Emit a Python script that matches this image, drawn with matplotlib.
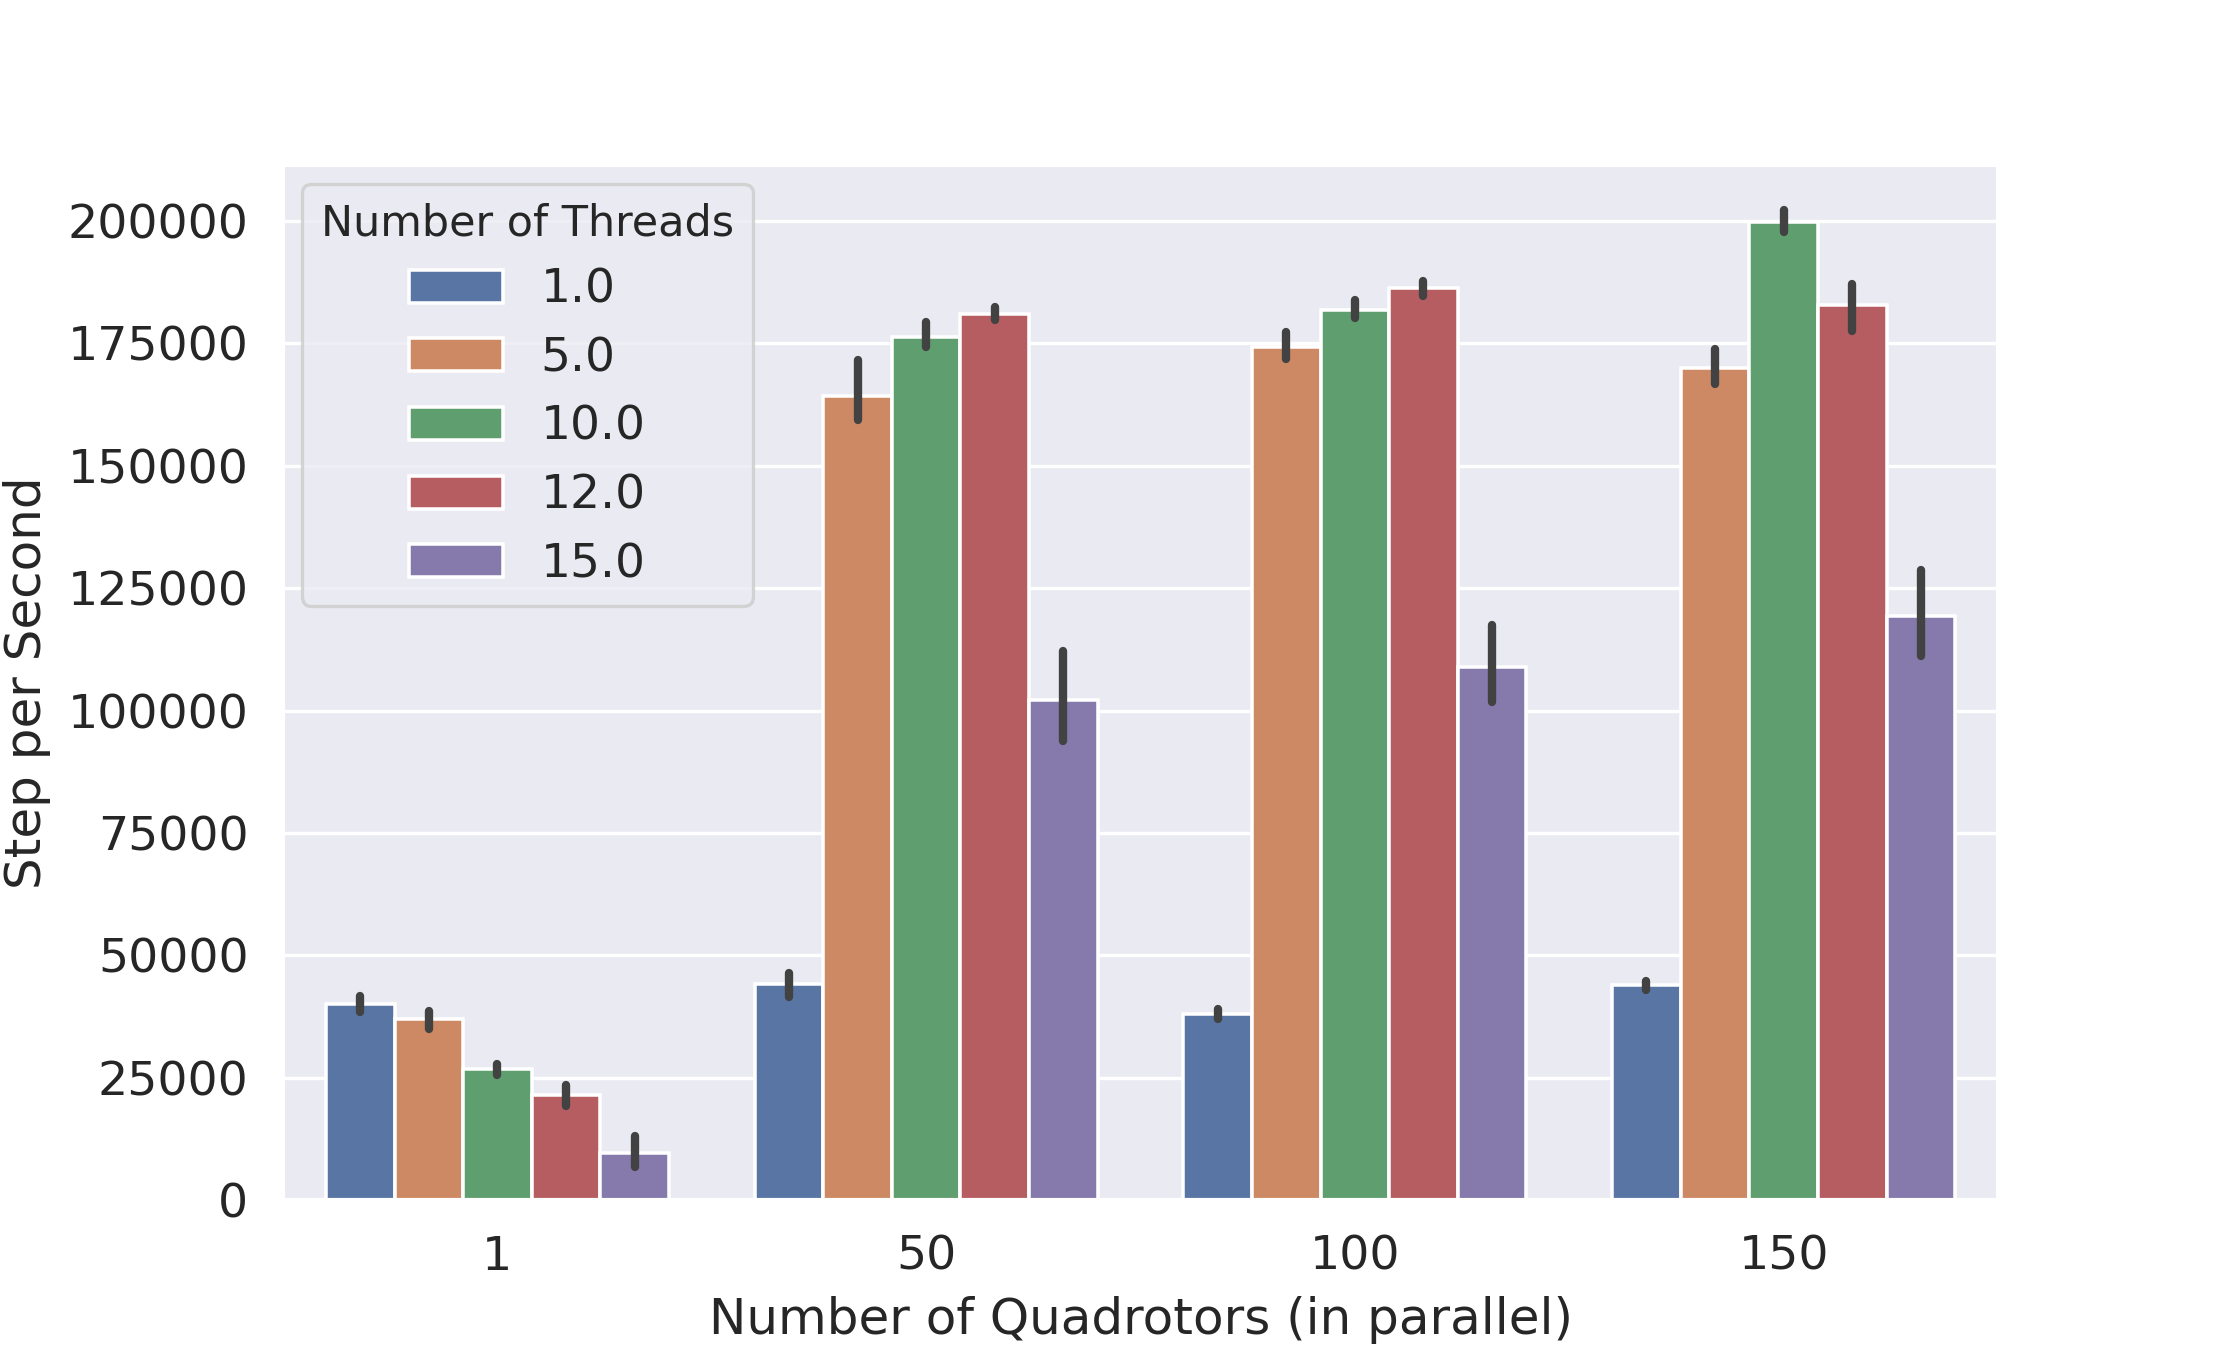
import matplotlib
matplotlib.use("Agg")
import matplotlib.pyplot as plt
import numpy as np
import seaborn as sns

# ---- Data ----
quadrotors = ["1", "50", "100", "150"]
threads = ["1.0", "5.0", "10.0", "12.0", "15.0"]

# mean steps per second, one list per thread count (order follows quadrotors)
mean_t1 = [40100, 44200, 38000, 43900]
mean_t5 = [36900, 164200, 174200, 170000]
mean_t10 = [26700, 176300, 181800, 199800]
mean_t12 = [21400, 181100, 186400, 182800]
mean_t15 = [9600, 102100, 109000, 119400]

# confidence interval ends
lo_t1 = [38400, 41500, 36900, 43000]
hi_t1 = [41800, 46400, 39100, 44800]
lo_t5 = [35000, 159400, 171900, 166700]
hi_t5 = [38700, 171600, 177300, 173800]
lo_t10 = [25500, 174200, 180200, 197700]
hi_t10 = [27900, 179400, 183900, 202200]
lo_t12 = [19200, 179800, 184700, 177500]
hi_t12 = [23600, 182500, 187800, 187100]
lo_t15 = [6750, 93800, 101700, 111200]
hi_t15 = [13100, 112100, 117500, 128700]

means = [mean_t1, mean_t5, mean_t10, mean_t12, mean_t15]
lows = [lo_t1, lo_t5, lo_t10, lo_t12, lo_t15]
highs = [hi_t1, hi_t5, hi_t10, hi_t12, hi_t15]

# ---- Style ----
sns.set_theme(context="paper", style="darkgrid")
plt.rcParams["font.family"] = ["DejaVu Sans"]
colors = [sns.desaturate(c, 0.75) for c in sns.color_palette("deep", len(threads))]

fig = plt.figure(figsize=(7.4, 4.5), dpi=300)
ax = fig.add_axes([0.1275, 0.111, 0.7725, 0.767])

x = np.arange(len(quadrotors))
n = len(threads)
width = 0.8 / n

for i, t in enumerate(threads):
    pos = x - 0.4 + width * (i + 0.5)
    ax.bar(pos, means[i], width=width, color=colors[i], edgecolor="white",
           linewidth=0.85, label=t, zorder=2)
    ax.vlines(pos, lows[i], highs[i], color=".26", linewidth=2.0,
              capstyle="round", zorder=3)

ax.xaxis.grid(False)
ax.set_xlim(-0.5, len(quadrotors) - 0.5)
ax.set_ylim(0, 211500)
ax.set_yticks(np.arange(0, 200001, 25000))
ax.set_xticks(x)
ax.set_xticklabels(quadrotors)
ax.tick_params(axis="both", labelsize=11.4)
ax.set_xlabel("Number of Quadrotors (in parallel)", fontsize=12)
ax.set_ylabel("Step per Second", fontsize=12)

leg = ax.legend(title="Number of Threads", loc="upper left", fontsize=11.3,
                title_fontsize=10.3, borderaxespad=0.4)

fig.savefig("out.png", dpi=300)
